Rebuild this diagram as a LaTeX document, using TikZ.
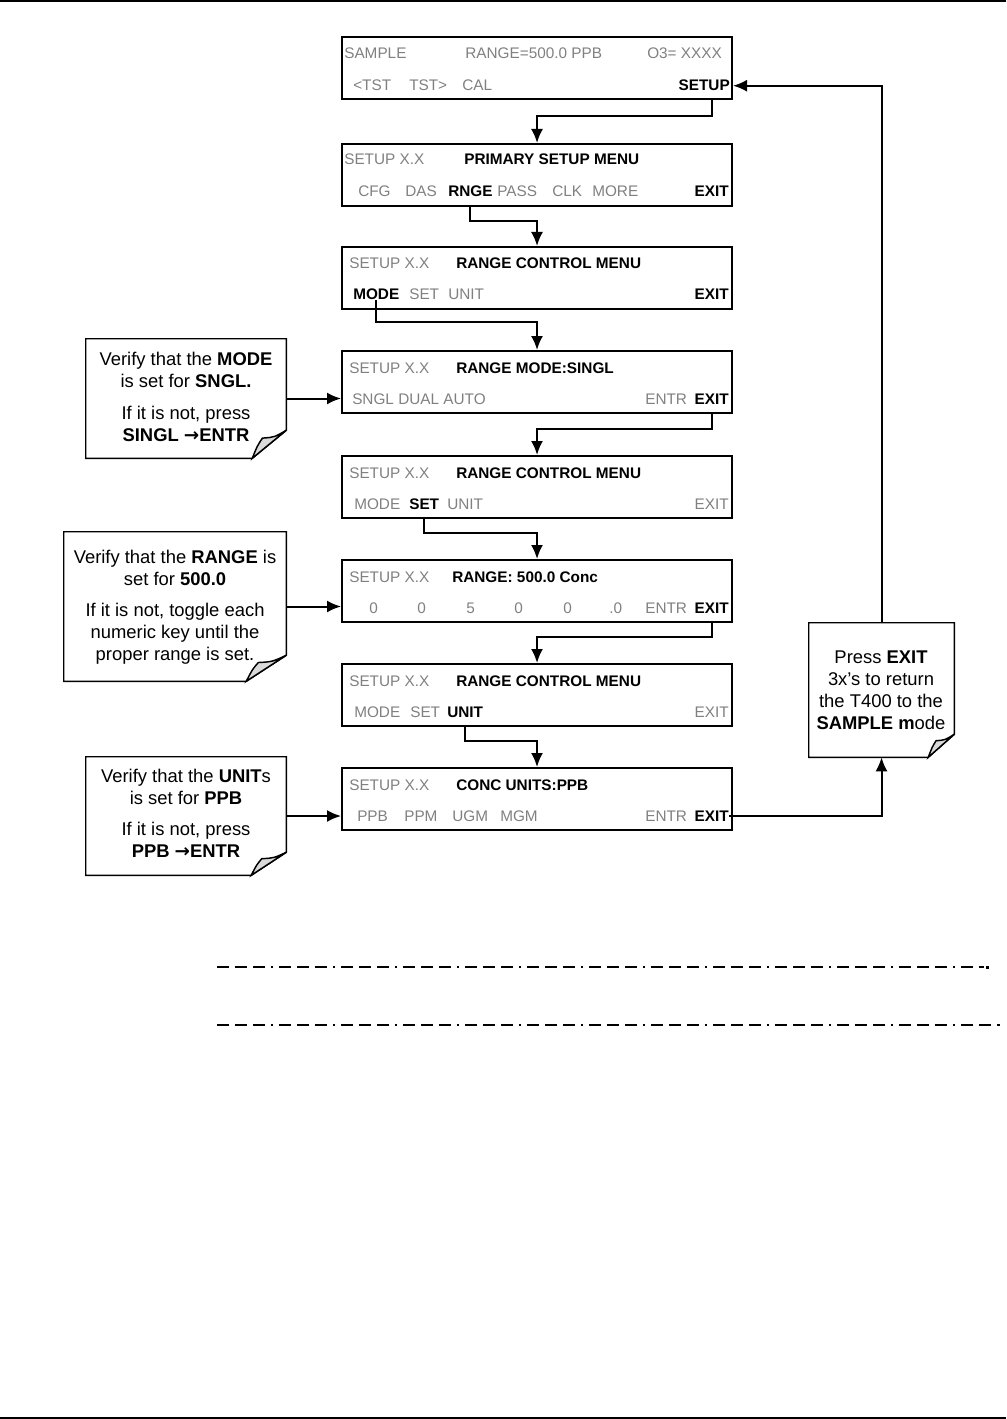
\documentclass[tikz,border=0pt]{standalone}
\usepackage{fontspec}
\setmainfont{Liberation Sans}
\newfontfamily\arrowfont{DejaVu Sans}
\usepackage{tikz}
\usetikzlibrary{arrows.meta,fit,calc}

\definecolor{lcdgray}{gray}{0.5}
\definecolor{foldgray}{gray}{0.85}
\newcommand{\lcdfont}{\fontsize{11.5pt}{13pt}\selectfont}
\newcommand{\notefont}{\fontsize{13.8pt}{16.5pt}\selectfont}
\newcommand{\goesto}{{\arrowfont\bfseries →}}

\tikzset{
  screen/.style={draw, line width=1.5pt, inner sep=0pt},
  notebox/.style={inner sep=0pt},
  noteline/.style={line width=1.1pt, line join=miter},
  notetext/.style={align=center, font=\notefont, inner sep=0pt},
  lcd/.style={anchor=base west, inner sep=0pt, text=lcdgray, font=\lcdfont},
  key/.style={lcd, text=black, font=\lcdfont\bfseries},
  link/.style={line width=1.5pt},
  rule/.style={line width=0.9pt, dash pattern=on 9pt off 4.5pt on 9pt off 4.5pt on 9pt off 4.5pt on 1.5pt off 4.5pt}
}

% outline of a note with a curled corner: node, fold width, fold height
\newcommand{\foldnote}[3]{%
  \draw[noteline] (#1.north west) -- (#1.north east) -- ($(#1.south east)+(0,-#3)$)
    -- ($(#1.south east)+(-#2,0)$) -- (#1.south west) -- cycle;
  \draw[noteline, fill=foldgray] ($(#1.south east)+(-#2,0)$)
    .. controls ($(#1.south east)+(-0.85*#2,-0.45*#3)$) .. ($(#1.south east)+(-0.7*#2,-0.72*#3)$)
    .. controls ($(#1.south east)+(-0.35*#2,-0.75*#3)$) .. ($(#1.south east)+(0,-#3)$) -- cycle;
}

\begin{document}
\begin{tikzpicture}[x=0.75pt,y=-0.75pt,>={Latex[length=10.5pt,width=9pt]}]
   \useasboundingbox (0,0) rectangle (1006,1419);
   \draw[line width=1.2pt] (0,1) -- (1006,1);
   \draw[line width=1.2pt] (0,1418) -- (1006,1418);

   % screens
   \node[screen, fit={(342,37) (732,99)}] (s1) {};
   \node[screen, fit={(342,144) (732,206)}] (s2) {};
   \node[screen, fit={(342,247) (732,309)}] (s3) {};
   \node[screen, fit={(342,351) (732,413)}] (s4) {};
   \node[screen, fit={(342,456) (732,518)}] (s5) {};
   \node[screen, fit={(342,560) (732,622)}] (s6) {};
   \node[screen, fit={(342,664) (732,726)}] (s7) {};
   \node[screen, fit={(342,768) (732,830)}] (s8) {};

   \node[lcd] (s1a) at (344,59) {SAMPLE};
   \node[lcd] (s1b) at (465,59) {RANGE=500.0 PPB};
   \node[lcd] (s1c) at (647,59) {O3= XXXX};
   \node[lcd] (s1d) at (353,91) {<TST};
   \node[lcd] (s1e) at (409,91) {TST>};
   \node[lcd] (s1f) at (462,91) {CAL};
   \node[key, anchor=base east] (s1setup) at (730,91) {SETUP};

   \node[lcd] (s2a) at (344,165) {SETUP X.X};
   \node[key] (s2b) at (464,165) {PRIMARY SETUP MENU};
   \node[lcd] (s2c) at (358,197) {CFG};
   \node[lcd] (s2d) at (405,197) {DAS};
   \node[key] (s2rnge) at (448,197) {RNGE};
   \node[lcd] (s2e) at (497,197) {PASS};
   \node[lcd] (s2f) at (552,197) {CLK};
   \node[lcd] (s2g) at (592,197) {MORE};
   \node[key, anchor=base east] (s2exit) at (729,197) {EXIT};

   \node[lcd] (s3a) at (349,269) {SETUP X.X};
   \node[key] (s3b) at (456,269) {RANGE CONTROL MENU};
   \node[key] (s3mode) at (353,300) {MODE};
   \node[lcd] (s3c) at (409,300) {SET};
   \node[lcd] (s3d) at (448,300) {UNIT};
   \node[key, anchor=base east] (s3exit) at (729,300) {EXIT};

   \node[lcd] (s4a) at (349,373) {SETUP X.X};
   \node[key] (s4b) at (456,373) {RANGE MODE:SINGL};
   \node[lcd] (s4c) at (352,404) {SNGL DUAL AUTO};
   \node[lcd] (s4d) at (645,404) {ENTR};
   \node[key, anchor=base east] (s4exit) at (729,404) {EXIT};

   \node[lcd] (s5a) at (349,478) {SETUP X.X};
   \node[key] (s5b) at (456,478) {RANGE CONTROL MENU};
   \node[lcd] (s5c) at (354,509) {MODE};
   \node[key] (s5set) at (409,509) {SET};
   \node[lcd] (s5d) at (447,509) {UNIT};
   \node[lcd, anchor=base east] (s5exit) at (729,509) {EXIT};

   \node[lcd] (s6a) at (349,582) {SETUP X.X};
   \node[key] (s6b) at (452,582) {RANGE: 500.0 Conc};
   \node[lcd] (s6c) at (369,613) {0};
   \node[lcd] (s6d) at (417,613) {0};
   \node[lcd] (s6e) at (466,613) {5};
   \node[lcd] (s6f) at (514,613) {0};
   \node[lcd] (s6g) at (563,613) {0};
   \node[lcd] (s6h) at (609,613) {.0};
   \node[lcd] (s6i) at (645,613) {ENTR};
   \node[key, anchor=base east] (s6exit) at (729,613) {EXIT};

   \node[lcd] (s7a) at (349,686) {SETUP X.X};
   \node[key] (s7b) at (456,686) {RANGE CONTROL MENU};
   \node[lcd] (s7c) at (354,717) {MODE};
   \node[lcd] (s7d) at (410,717) {SET};
   \node[key] (s7unit) at (447,717) {UNIT};
   \node[lcd, anchor=base east] (s7exit) at (729,717) {EXIT};

   \node[lcd] (s8a) at (349,790) {SETUP X.X};
   \node[key] (s8b) at (456,790) {CONC UNITS:PPB};
   \node[lcd] (s8c) at (357,821) {PPB};
   \node[lcd] (s8d) at (404,821) {PPM};
   \node[lcd] (s8e) at (452,821) {UGM};
   \node[lcd] (s8f) at (500,821) {MGM};
   \node[lcd] (s8g) at (645,821) {ENTR};
   \node[key, anchor=base east] (s8exit) at (729,821) {EXIT};

   % notes
   \node[notebox, fit={(86,339) (286,458)}] (n1) {};
   \node[notebox, fit={(64,532) (286,681)}] (n2) {};
   \node[notebox, fit={(86,757) (286,875)}] (n3) {};
   \node[notebox, fit={(809,623) (954,757)}] (n4) {};
   \foldnote{n1}{34}{28}
   \foldnote{n2}{40}{26}
   \foldnote{n3}{35}{23}
   \foldnote{n4}{26}{23}

   \node[notetext] (n1txt) at (186,397) {Verify that the \textbf{MODE}\\ is set for \textbf{SNGL.}\\[7pt]
     If it is not, press\\ \textbf{SINGL \goesto ENTR}};
   \node[notetext] (n2txt) at (175,607) {Verify that the \textbf{RANGE} is\\ set for \textbf{500.0}\\[7pt]
     If it is not, toggle each\\ numeric key until the\\ proper range is set.};
   \node[notetext] (n3txt) at (186,813) {Verify that the \textbf{UNIT}s\\ is set for \textbf{PPB}\\[7pt]
     If it is not, press\\ \textbf{PPB \goesto ENTR}};
   \node[notetext] (n4txt) at (881,690) {Press \textbf{EXIT}\\ 3x’s to return\\ the T400 to the\\ \textbf{SAMPLE m}ode};

   % connectors
   \coordinate (setupdrop) at (712,99);
   \draw[link,->] (setupdrop) -- ++(0,17) -| (s2.north);
   \draw[link,->] (s2rnge |- s2.south) -- ++(0,14) -| (s3.north);
   \draw[link,->] (s3mode.south) -- ++(0,22) -| (s4.north);
   \draw[link,->] (s4exit |- s4.south) -- ++(0,15) -| (s5.north);
   \draw[link,->] (s5set |- s5.south) -- ++(0,14) -| (s6.north);
   \draw[link,->] (s6exit |- s6.south) -- ++(0,14) -| (s7.north);
   \draw[link,->] (s7unit |- s7.south) -- ++(0,14) -| (s8.north);

   \draw[link,->] (n1) -- (n1 -| s4.west);
   \draw[link,->] (n2) -- (n2 -| s6.west);
   \draw[link,->] (n3) -- (n3 -| s8.west);
   \draw[link,->] (s8exit.east) -| (n4.south);
   \draw[link,->] (n4.north) |- (s1.east |- s1setup.east);

   % dashed rules
   \draw[rule] (217,967) -- (984,967);
   \fill (986,965.5) rectangle (989,968.5);
   \draw[rule] (217,1025) -- (1000,1025);
\end{tikzpicture}
\end{document}
